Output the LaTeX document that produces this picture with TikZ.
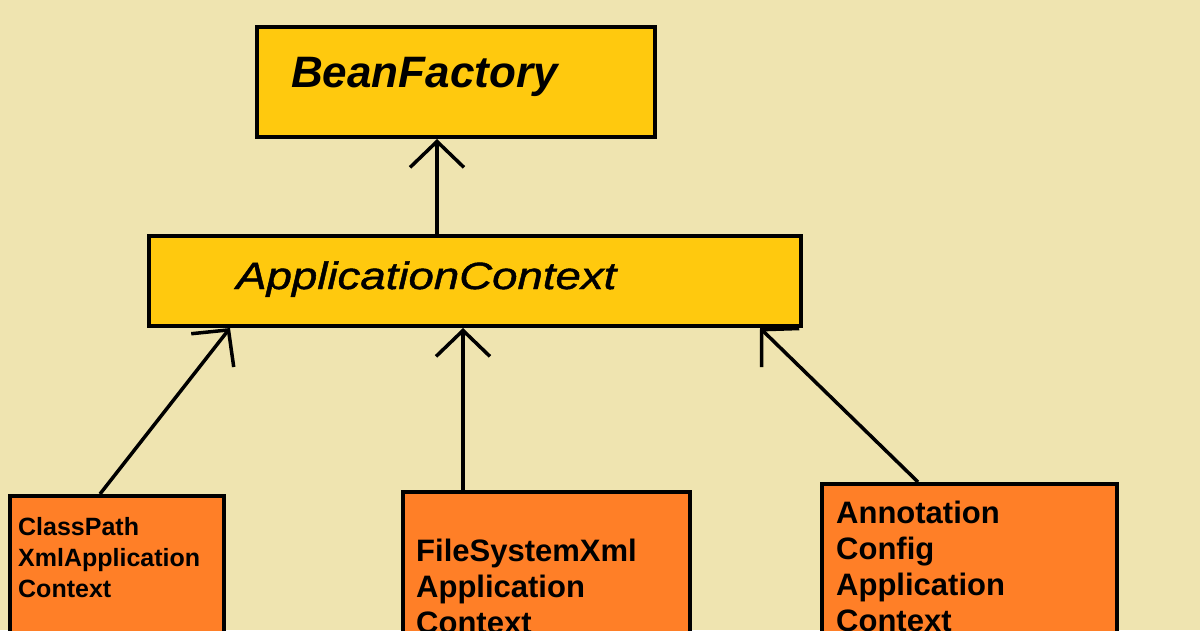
\documentclass[tikz,border=0pt]{standalone}
\usepackage{fontspec}
\setsansfont{Liberation Sans}
\newfontfamily\widesans[FakeStretch=1.2,FakeBold=1.2]{Liberation Sans}
\usetikzlibrary{arrows.meta}
\definecolor{paper}{RGB}{239,228,176}
\definecolor{gold}{RGB}{255,201,14}
\definecolor{tangerine}{RGB}{255,127,39}

\begin{document}
\begin{tikzpicture}[x=1pt,y=-1pt,>={Straight Barb[length=26pt,width=54pt]}]
  \tikzset{
    box/.style={draw=black,line width=4pt,inner sep=0pt},
    ifacebox/.style={box,fill=gold},
    implbox/.style={box,fill=tangerine,anchor=north},
    inh/.style={->,line width=3.5pt},
    implname/.style={anchor=north west,align=left,inner sep=0pt,font=\sffamily\bfseries#1},
  }
  \useasboundingbox (0,0) rectangle (1200,630);
  \clip (0,0) rectangle (1200,630);
  \fill[paper] (0,0) rectangle (1200,630);
  % interfaces
  \node[ifacebox,minimum width=398pt,minimum height=110pt] (bf) at (456,82) {};
  \node[anchor=base west,inner sep=0pt,font=\sffamily\bfseries\itshape\fontsize{44}{48}\selectfont] (bftext) at (291,87) {BeanFactory};
  \node[ifacebox,minimum width=652pt,minimum height=90pt] (ac) at (475,281) {};
  \node[anchor=base west,inner sep=0pt,font=\widesans\itshape\fontsize{38}{42}\selectfont] (actext) at (236,289) {ApplicationContext};
  % implementations
  \node[implbox,minimum width=214pt,minimum height=300pt] (cp) at (117,494) {};
  \node[implname={\fontsize{25}{31}\selectfont}] (cptext) at (18,517) {ClassPath\\XmlApplication\\Context};
  \node[implbox,minimum width=287pt,minimum height=300pt] (fs) at (546.5,490) {};
  \node[implname={\fontsize{31}{36}\selectfont}] (fstext) at (416,539) {FileSystemXml\\Application\\Context};
  \node[implbox,minimum width=295pt,minimum height=300pt] (an) at (969.5,482) {};
  \node[implname={\fontsize{31}{36}\selectfont}] (antext) at (836,501) {Annotation\\Config\\Application\\Context};
  % inheritance
  \draw[inh] ([xshift=-38pt]ac.north) -- ([xshift=-19pt]bf.south);
  \draw[inh] ([xshift=-17pt]cp.north) -- ([xshift=83pt]ac.south west);
  \draw[inh] ([xshift=-83.5pt]fs.north) -- ([xshift=316pt]ac.south west);
  \draw[inh] ([xshift=-51.5pt]an.north) -- ([xshift=-43pt]ac.south east);
\end{tikzpicture}
\end{document}
